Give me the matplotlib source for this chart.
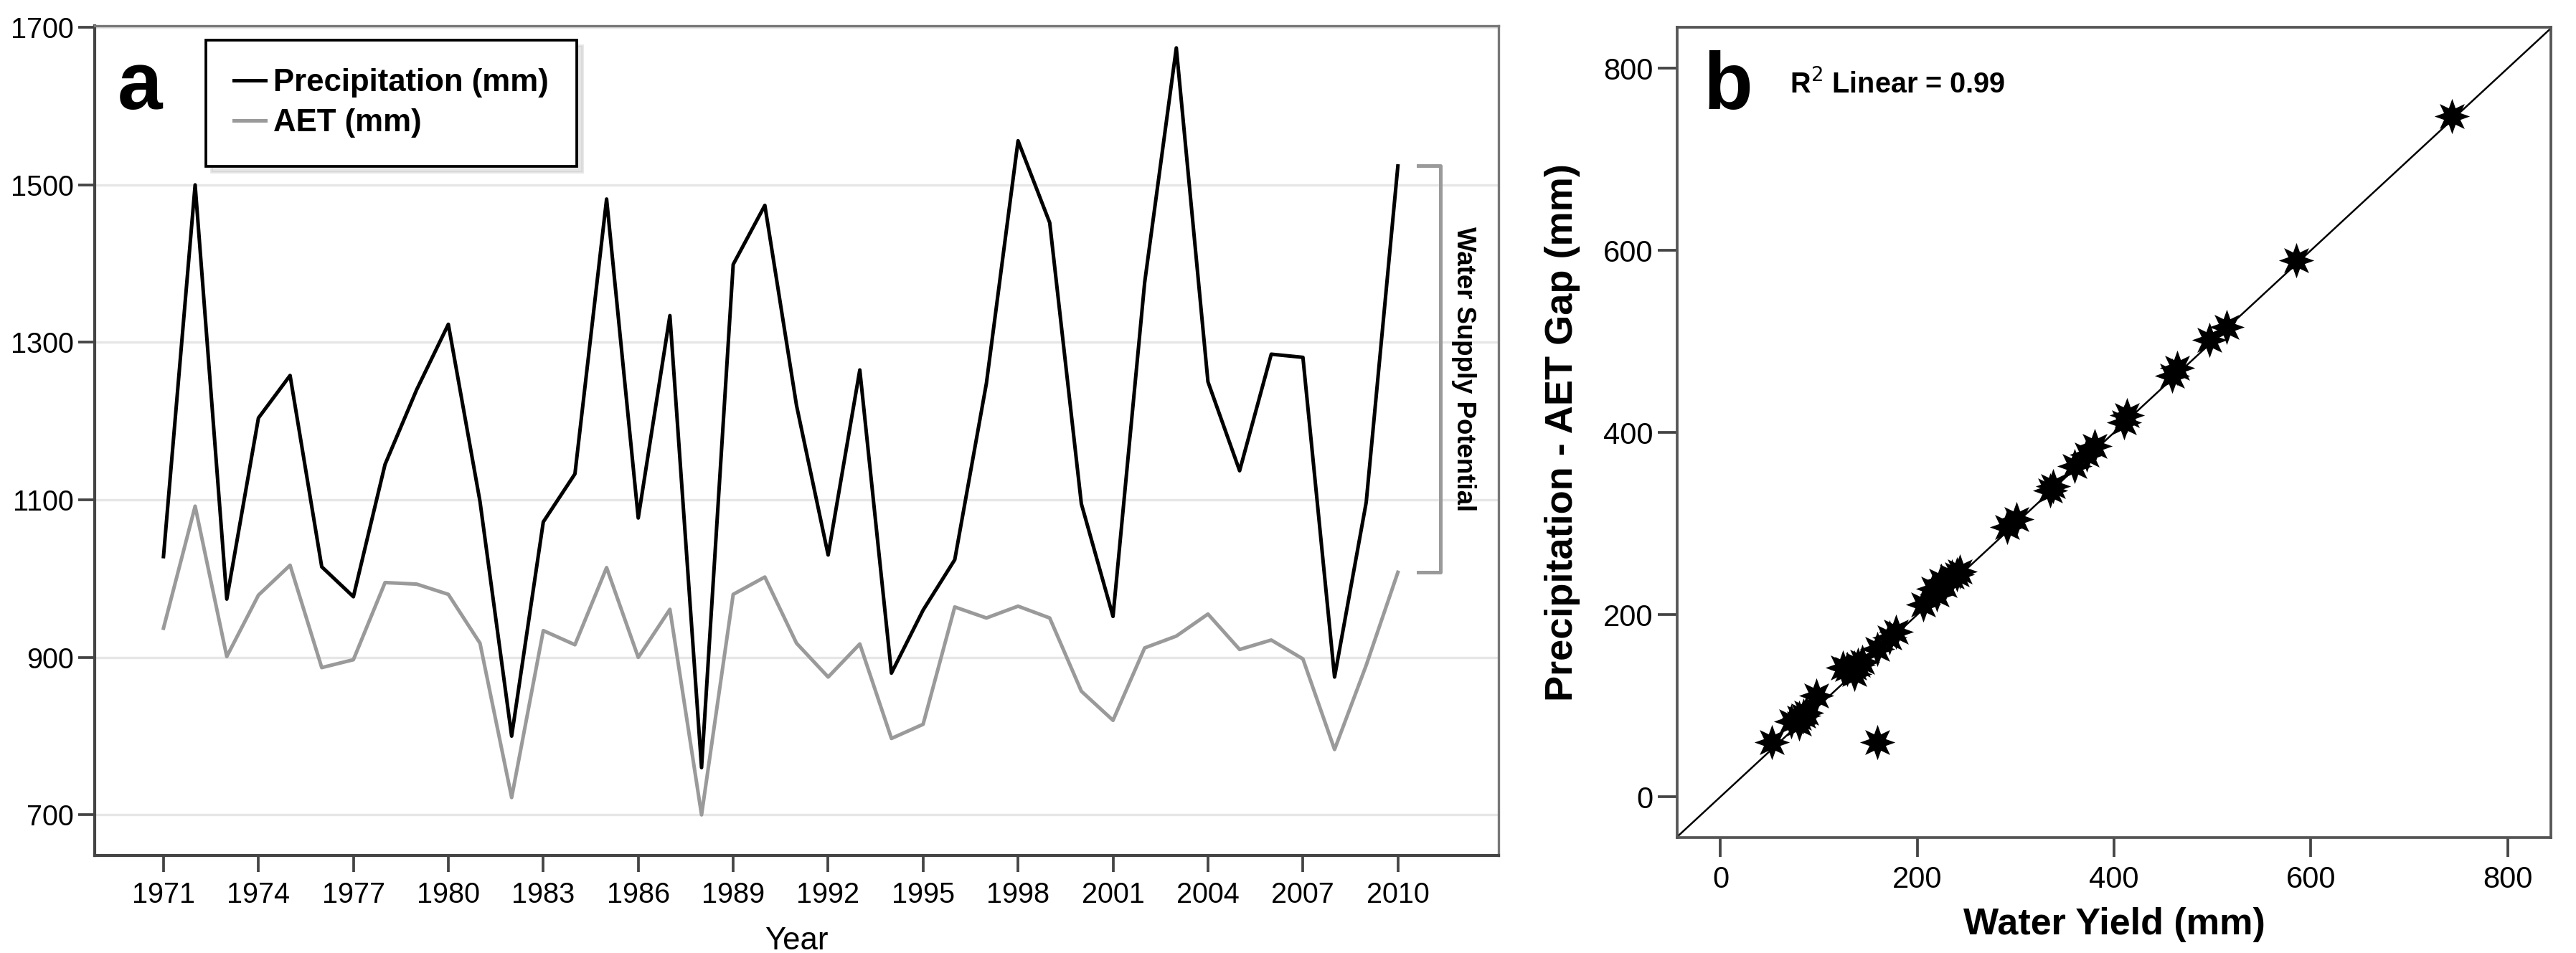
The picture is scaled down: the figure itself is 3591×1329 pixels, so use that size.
import matplotlib
matplotlib.use("Agg")
from matplotlib import pyplot as plt

plt.rcParams['font.family'] = ['Liberation Sans', 'DejaVu Sans']

#<----DATA---->
years = list(range(1971, 2011))
precip = [1028, 1500, 974, 1204, 1258, 1015, 977, 1145, 1240, 1323,
          1098, 800, 1072, 1133, 1482, 1077, 1334, 760, 1399, 1474,
          1220, 1030, 1265, 880, 960, 1024, 1248, 1556, 1452, 1095,
          952, 1376, 1674, 1250, 1137, 1285, 1281, 875, 1097, 1524]
aet = [937, 1092, 901, 979, 1017, 887, 897, 995, 993, 980,
       918, 722, 934, 916, 1014, 900, 961, 700, 980, 1002,
       918, 875, 917, 797, 815, 964, 950, 965, 950, 857,
       820, 912, 927, 955, 910, 922, 898, 783, 890, 1008]

water_yield = [52, 72, 80, 80, 87, 84, 97, 136, 129, 124,
               136, 140, 144, 159, 172, 178, 206, 220, 216, 228,
               224, 235, 240, 243, 291, 301, 335, 338, 360, 372,
               380, 410, 413, 459, 464, 497, 514, 585, 743, 159]
gap = [60, 83, 80, 87, 92, 89, 111, 135, 140, 142,
       142, 145, 148, 162, 175, 181, 211, 222, 228, 232,
       237, 242, 244, 247, 296, 305, 336, 341, 363, 376,
       385, 411, 419, 462, 471, 502, 516, 589, 747, 60]

fig = plt.figure(figsize=(11.97, 4.43), dpi=300)

#<----PANEL a : LINE PLOT---->
ax1 = fig.add_axes([0.0368, 0.102, 0.5448, 0.8709])
ax1.plot(years, precip, color="black", lw=1.2, label="Precipitation (mm)", zorder=3)
ax1.plot(years, aet, color="#9a9a9a", lw=1.2, label="AET (mm)", zorder=3)
ax1.set_xlim(1968.83, 2013.17)
ax1.set_ylim(648, 1702)
ax1.set_xticks(years[::3])
ax1.set_yticks([700, 900, 1100, 1300, 1500, 1700])
ax1.yaxis.grid(True, color="#e6e6e6", lw=0.8, zorder=0)
ax1.tick_params(direction="out", length=5.5, width=0.9, color="#444444",
                labelsize=9.5, pad=1.5)
ax1.tick_params(axis="x", pad=3)
for s in ["left", "bottom"]:
    ax1.spines[s].set_color("#444444")
    ax1.spines[s].set_linewidth(1.0)
for s in ["top", "right"]:
    ax1.spines[s].set_color("#777777")
    ax1.spines[s].set_linewidth(0.8)
ax1.set_xlabel("Year", fontsize=10.5, labelpad=6)

leg = ax1.legend(loc="upper left", bbox_to_anchor=(0.079, 0.983),
                 prop={"weight": "bold", "size": 10.5}, frameon=True, fancybox=False,
                 edgecolor="black", handlelength=1.0, handletextpad=0.25,
                 borderpad=0.9, labelspacing=0.35, borderaxespad=0,
                 shadow={"color": "0.8"})
leg.get_frame().set_linewidth(0.9)
ax1.text(0.016, 0.9, "a", transform=ax1.transAxes, fontsize=27, fontweight="bold")

# bracket for water supply potential (2010 values)
bx0 = years[-1] + 0.65
bx1 = years[-1] + 1.35
ax1.plot([bx0, bx1, bx1, bx0], [precip[-1], precip[-1], aet[-1], aet[-1]],
         color="#9a9a9a", lw=1.2, clip_on=False)
ax1.text(years[-1] + 2.08, (precip[-1] + aet[-1]) / 2, "Water Supply Potential",
         rotation=270, ha="center", va="center", fontsize=8.8, fontweight="bold")

#<----PANEL b : SCATTER---->
ax2 = fig.add_axes([0.6511, 0.1215, 0.3392, 0.8499])
ax2.scatter(water_yield, gap, marker=(8, 1, 0), s=140, color="black", lw=0, zorder=3)
ax2.axline((0, 0), slope=1, color="black", lw=0.6, zorder=2)
ax2.set_xlim(-44, 844)
ax2.set_ylim(-44.5, 845)
ax2.set_xticks([0, 200, 400, 600, 800])
ax2.set_yticks([0, 200, 400, 600, 800])
ax2.tick_params(direction="out", length=6.5, width=0.9, color="#444444",
                labelsize=10, pad=1.5)
ax2.tick_params(axis="x", pad=3)
for s in ax2.spines.values():
    s.set_color("#555555")
    s.set_linewidth(0.9)
ax2.set_xlabel("Water Yield (mm)", fontsize=12.5, fontweight="bold")
ax2.set_ylabel("Precipitation - AET Gap (mm)", fontsize=13, fontweight="bold")
ax2.yaxis.set_label_coords(-0.111, 0.5)
ax2.xaxis.set_label_coords(0.5, -0.086)
ax2.text(0.03, 0.899, "b", transform=ax2.transAxes, fontsize=27, fontweight="bold")
ax2.text(0.1286, 0.919, "R$^2$ Linear = 0.99", transform=ax2.transAxes,
         fontsize=9.5, fontweight="bold")

fig.savefig("out.png", dpi=300)
